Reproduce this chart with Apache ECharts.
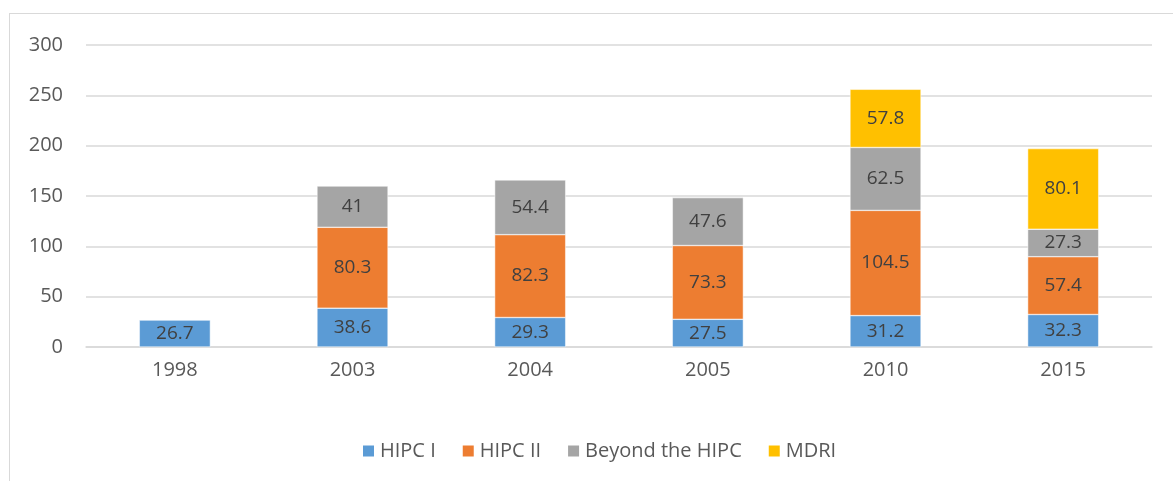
<!DOCTYPE html>
<html>
<head>
<meta charset="utf-8">
<script src="https://cdn.jsdelivr.net/npm/echarts@6/dist/echarts.min.js"></script>
<style>
  html, body { margin: 0; padding: 0; background: #fff; }
  #wrap { position: relative; width: 1173px; height: 481px; overflow: hidden; }
  #frame { position: absolute; left: 9px; top: 13px; width: 1200px; height: 500px; border: 1px solid #d9d9d9; }
  #myChart { position: absolute; left: 0; top: 0; width: 1173px; height: 481px; }
</style>
</head>
<body>
<div id="wrap">
  <div id="frame"></div>
  <div id="myChart"></div>
</div>
<script>
// data
var years = ["1998", "2003", "2004", "2005", "2010", "2015"];
var hipc1 = [26.7, 38.6, 29.3, 27.5, 31.2, 32.3];
var hipc2 = [null, 80.3, 82.3, 73.3, 104.5, 57.4];
var beyond = [null, 41, 54.4, 47.6, 62.5, 27.3];
var mdri = [null, null, null, null, 57.8, 80.1];
var yTicks = [0, 50, 100, 150, 200, 250, 300];

var colors = ["#5b9bd5", "#ed7d31", "#a5a5a5", "#ffc000"];
var font = "'Open Sans', 'Noto Sans', sans-serif";

function mkSeries(name, data) {
  return {
    name: name,
    type: "bar",
    stack: "total",
    barWidth: "40%",
    data: data,
    itemStyle: { borderColor: "#fff", borderWidth: 0.5 },
    label: {
      show: true,
      position: "inside",
      color: "#404040",
      fontSize: 19,
      fontFamily: font
    }
  };
}

var myChart = echarts.init(document.getElementById("myChart"));
myChart.setOption({
  color: colors,
  animation: false,
  textStyle: { fontFamily: font },
  grid: { left: 86, right: 21, top: 45, bottom: 134 },
  legend: {
    bottom: 15,
    left: 356,
    itemWidth: 13,
    itemHeight: 13,
    itemGap: 25,
    icon: "rect",
    textStyle: { color: "#595959", fontSize: 20, fontFamily: font },
    data: ["HIPC I", "HIPC II", "Beyond the HIPC", "MDRI"]
  },
  xAxis: {
    type: "category",
    data: years,
    axisTick: { show: false },
    axisLine: { lineStyle: { color: "#d9d9d9", width: 1.5 } },
    axisLabel: { color: "#595959", fontSize: 20, margin: 13 }
  },
  yAxis: {
    type: "value",
    min: yTicks[0],
    max: yTicks[yTicks.length - 1],
    interval: 50,
    axisLine: { show: false },
    axisTick: { show: false },
    splitLine: { lineStyle: { color: "#d9d9d9", width: 1.5 } },
    axisLabel: { color: "#595959", fontSize: 20, margin: 23 }
  },
  series: [
    mkSeries("HIPC I", hipc1),
    mkSeries("HIPC II", hipc2),
    mkSeries("Beyond the HIPC", beyond),
    mkSeries("MDRI", mdri)
  ]
});
</script>
</body>
</html>
